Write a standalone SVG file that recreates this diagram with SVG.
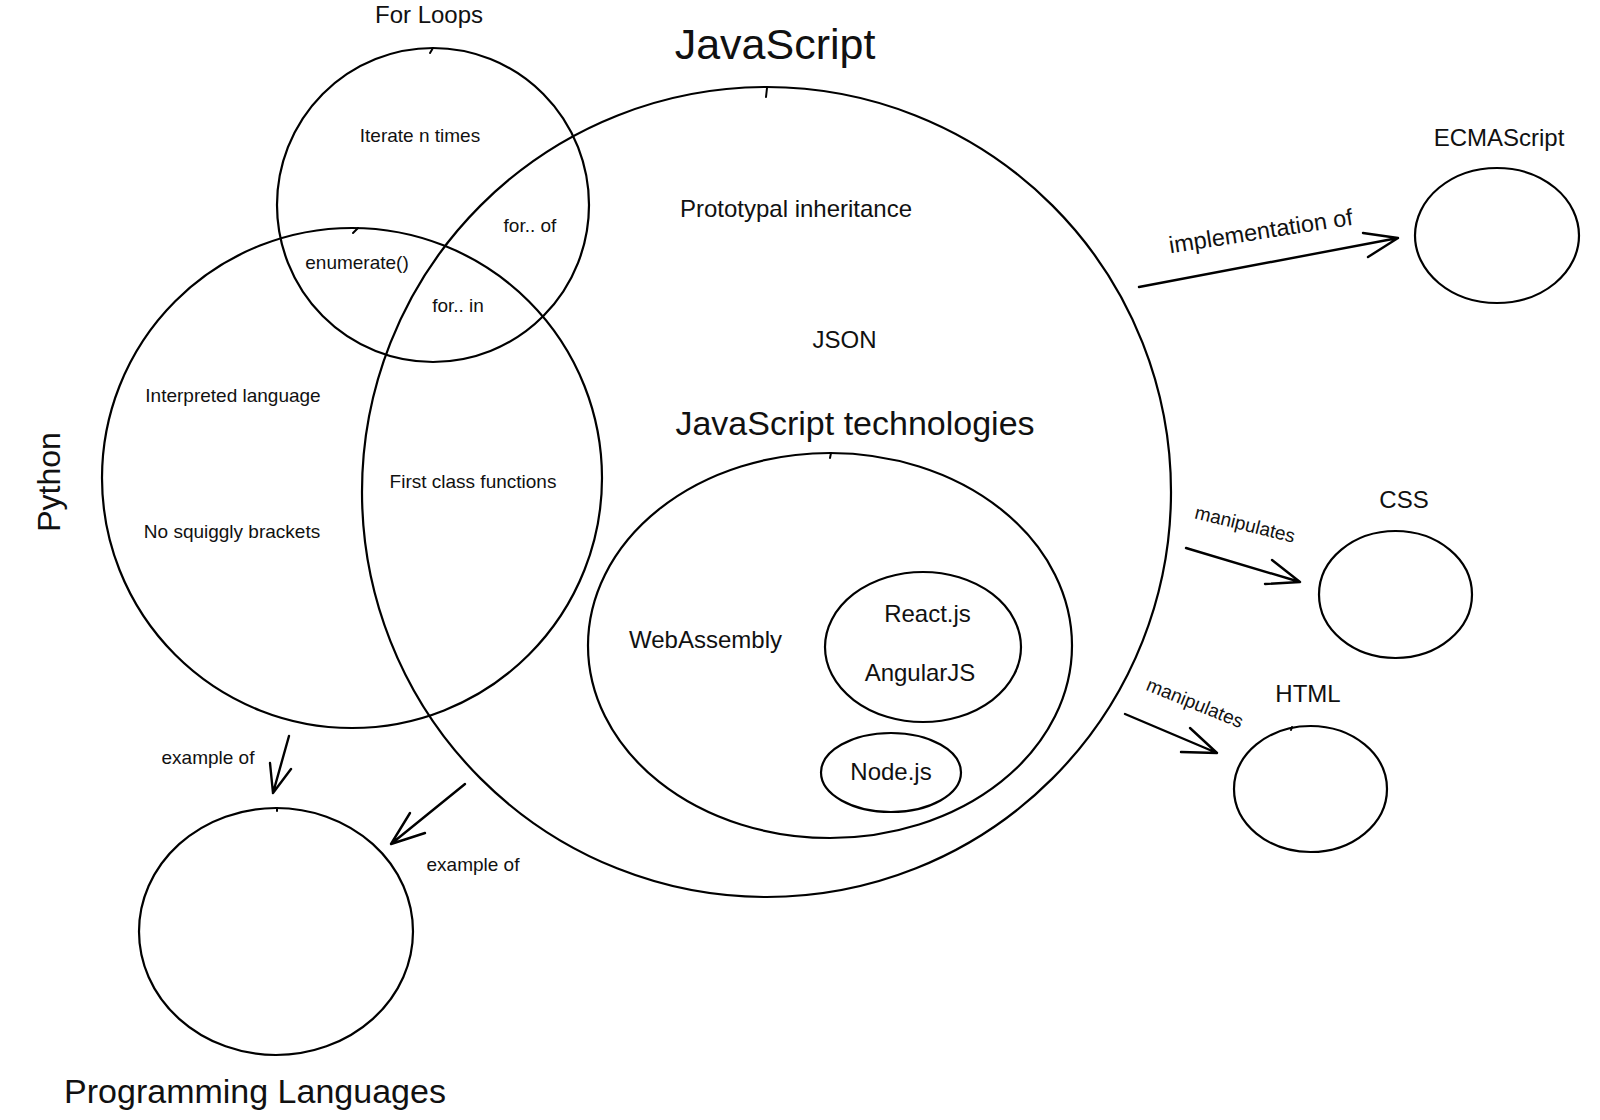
<svg xmlns="http://www.w3.org/2000/svg" width="1600" height="1120" viewBox="0 0 1600 1120">
<style>
  .shape { fill: none; stroke: #000; stroke-width: 2.2; }
  .tick { fill: none; stroke: #000; stroke-width: 2; stroke-linecap: round; }
  .conn { fill: none; stroke: #000; stroke-width: 2.4; stroke-linecap: round; stroke-linejoin: round; }
  text { font-family: "Liberation Sans", Arial, Helvetica, sans-serif; fill: #111; text-anchor: middle; }
  .title { font-size: 43px; }
  .sub { font-size: 34px; }
  .lbl { font-size: 24px; }
  .sm { font-size: 19px; }
</style>
<rect width="1600" height="1120" fill="#fff"/>

<g id="node-for-loops">
  <ellipse class="shape" cx="433" cy="205" rx="156" ry="157"/>
  <path class="tick" d="M433,48 L430,53"/>
  <text class="lbl" x="429" y="23">For Loops</text>
  <text class="sm" x="420" y="142">Iterate n times</text>
  <text class="sm" x="530" y="232">for.. of</text>
  <text class="sm" x="357" y="269">enumerate()</text>
  <text class="sm" x="458" y="312">for.. in</text>
</g>

<g id="node-python">
  <ellipse class="shape" cx="352" cy="478" rx="250" ry="250"/>
  <path class="tick" d="M358,228 L353,233"/>
  <text style="font-size:32px" transform="translate(60,482) rotate(-90)">Python</text>
  <text class="sm" x="233" y="402">Interpreted language</text>
  <text class="sm" x="232" y="538">No squiggly brackets</text>
  <text class="sm" x="473" y="488">First class functions</text>
</g>

<g id="node-javascript">
  <ellipse class="shape" cx="766.5" cy="492" rx="404.5" ry="405"/>
  <path class="tick" d="M767,88 L766,97"/>
  <text class="title" x="775" y="59">JavaScript</text>
  <text class="lbl" x="796" y="217">Prototypal inheritance</text>
  <text class="lbl" x="844.5" y="348">JSON</text>
</g>

<g id="node-js-technologies">
  <ellipse class="shape" cx="830" cy="645.5" rx="242" ry="192.5"/>
  <path class="tick" d="M831,453 L830,458"/>
  <text class="sub" x="855" y="435">JavaScript technologies</text>
  <text class="lbl" x="705.5" y="648">WebAssembly</text>
</g>

<g id="node-frameworks">
  <ellipse class="shape" cx="923" cy="647" rx="98" ry="75"/>
  <text class="lbl" x="927.5" y="622">React.js</text>
  <text class="lbl" x="920" y="681">AngularJS</text>
</g>

<g id="node-nodejs">
  <ellipse class="shape" cx="891" cy="772.5" rx="70" ry="39.5"/>
  <text class="lbl" x="891" y="780">Node.js</text>
</g>

<g id="node-ecmascript">
  <ellipse class="shape" cx="1497" cy="235.5" rx="82" ry="67.5"/>
  <text class="lbl" x="1499" y="146">ECMAScript</text>
</g>

<g id="node-css">
  <ellipse class="shape" cx="1395.5" cy="594.5" rx="76.5" ry="63.5"/>
  <text class="lbl" x="1404" y="508">CSS</text>
</g>

<g id="node-html">
  <ellipse class="shape" cx="1310.5" cy="789" rx="76.5" ry="63"/>
  <path class="tick" d="M1292,727 L1291,730"/>
  <text class="lbl" x="1308" y="702">HTML</text>
</g>

<g id="node-programming-languages">
  <ellipse class="shape" cx="276" cy="931.5" rx="137" ry="123.5"/>
  <path class="tick" d="M277,808 L277,811"/>
  <text style="font-size:34px" x="255" y="1103">Programming Languages</text>
</g>

<g id="connectors">
  <g id="edge-js-ecmascript">
    <path class="conn" d="M1139,287 L1398,238 M1363,233 L1398,238 L1368,257"/>
    <text style="font-size:23.5px" transform="translate(1262,239) rotate(-8.9)">implementation of</text>
  </g>
  <g id="edge-js-css">
    <path class="conn" d="M1186,548 L1300,582 M1272,560 L1300,582 L1265,584"/>
    <text class="sm" transform="translate(1243.5,530.5) rotate(13.8)">manipulates</text>
  </g>
  <g id="edge-js-html">
    <path class="conn" d="M1125,714 L1217,753 M1190,728 L1217,753 L1181,752"/>
    <text class="sm" transform="translate(1192.5,709) rotate(22)">manipulates</text>
  </g>
  <g id="edge-python-pl">
    <path class="conn" d="M289,736 L273,793 M270,763 L273,793 L291,769"/>
    <text class="sm" x="208" y="764">example of</text>
  </g>
  <g id="edge-js-pl">
    <path class="conn" d="M465,784 L391,844 M410,813 L391,844 L425,833"/>
    <text class="sm" x="473" y="871">example of</text>
  </g>
</g>
</svg>
